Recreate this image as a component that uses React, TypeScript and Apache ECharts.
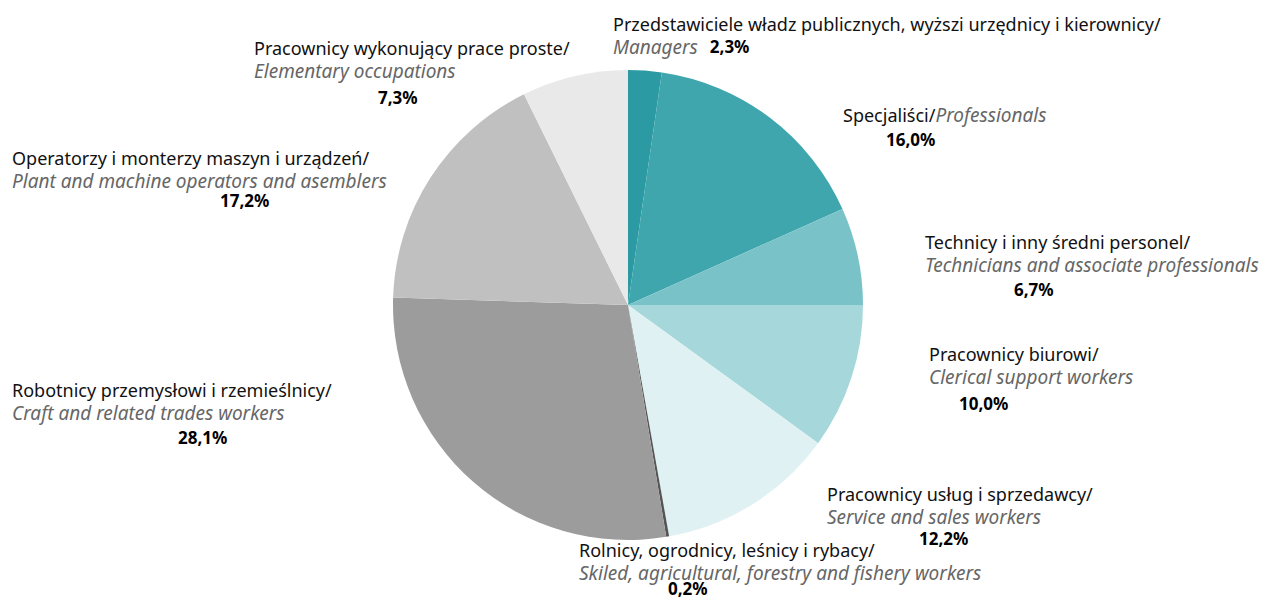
import React, { useEffect, useRef } from "react";
import * as echarts from "echarts";

const namesPl = [
  "Przedstawiciele władz publicznych, wyższi urzędnicy i kierownicy/",
  "Specjaliści/",
  "Technicy i inny średni personel/",
  "Pracownicy biurowi/",
  "Pracownicy usług i sprzedawcy/",
  "Rolnicy, ogrodnicy, leśnicy i rybacy/",
  "Robotnicy przemysłowi i rzemieślnicy/",
  "Operatorzy i monterzy maszyn i urządzeń/",
  "Pracownicy wykonujący prace proste/",
];
const namesEn = [
  "Managers",
  "Professionals",
  "Technicians and associate professionals",
  "Clerical support workers",
  "Service and sales workers",
  "Skiled, agricultural, forestry and fishery workers",
  "Craft and related trades workers",
  "Plant and machine operators and asemblers",
  "Elementary occupations",
];
const shares = [2.3, 16.0, 6.7, 10.0, 12.2, 0.2, 28.1, 17.2, 7.3];

const colors = ["#2c9aa2", "#40a6ae", "#79c3c8", "#a6d7da", "#dff1f2", "#555555", "#9c9c9c", "#c0c0c0", "#e9e9e9"];

// label layout: [x, y(top), layout kind, pct left pad, pct line height]
const labelPos: [number, number, string, number, number][] = [
  [613, 12, "inline", 0, 23],
  [843, 103, "oneLine", 43, 27],
  [925, 230, "three", 89, 27],
  [929, 342, "three", 30, 31],
  [827, 482, "three", 92, 21],
  [579, 538, "three", 89, 9],
  [12, 378, "three", 166, 27],
  [12, 146, "three", 208, 16],
  [254, 36, "three", 124, 31],
];

const fmt = (v: number) => v.toFixed(1).replace(".", ",") + "%";

export default function App() {
  const ref = useRef<HTMLDivElement>(null);
  useEffect(() => {
    const chart = echarts.init(ref.current!, null, { renderer: "svg" });
    const font = "Noto Sans";
    const baseRich = (padL: number, lh: number) => ({
      pl: { fontFamily: font, fontSize: 18, color: "#111", lineHeight: 23 },
      en: { fontFamily: font, fontSize: 19, color: "#666", fontStyle: "italic", lineHeight: 23 },
      pct: {
        fontFamily: font, fontSize: 17, color: "#000", fontWeight: "bold", lineHeight: lh,
        padding: [0, 0, 0, padL],
      },
      gap: { width: 12 },
    });
    const data = shares.map((v, i) => {
      const [, , kind, padL, lh] = labelPos[i];
      let formatter = "";
      if (kind === "inline") {
        formatter = `{pl|${namesPl[i]}}\n{en|${namesEn[i]}}{gap|}{pct|${fmt(v)}}`;
      } else if (kind === "oneLine") {
        formatter = `{pl|${namesPl[i]}}{en|${namesEn[i]}}\n{pct|${fmt(v)}}`;
      } else {
        formatter = `{pl|${namesPl[i]}}\n{en|${namesEn[i]}}\n{pct|${fmt(v)}}`;
      }
      return {
        name: namesEn[i],
        value: v,
        itemStyle: { color: colors[i] },
        label: { formatter, rich: baseRich(padL, lh) },
      };
    });
    chart.setOption({
      animation: false,
      series: [
        {
          type: "pie",
          center: [628, 305],
          radius: 235,
          startAngle: 90,
          clockwise: true,
          avoidLabelOverlap: false,
          itemStyle: { borderWidth: 0 },
          emphasis: { disabled: true },
          label: { show: true, position: "outside", align: "left" },
          labelLine: { show: false },
          labelLayout: (p: any) => {
            const [x, y] = labelPos[p.dataIndex];
            return { x, y, align: "left", verticalAlign: "top" };
          },
          data,
        },
      ],
    });
    return () => chart.dispose();
  }, []);
  return (
    <div
      ref={ref}
      style={{ position: "absolute", left: 0, top: 0, width: 1265, height: 601, background: "#fff" }}
    />
  );
}
